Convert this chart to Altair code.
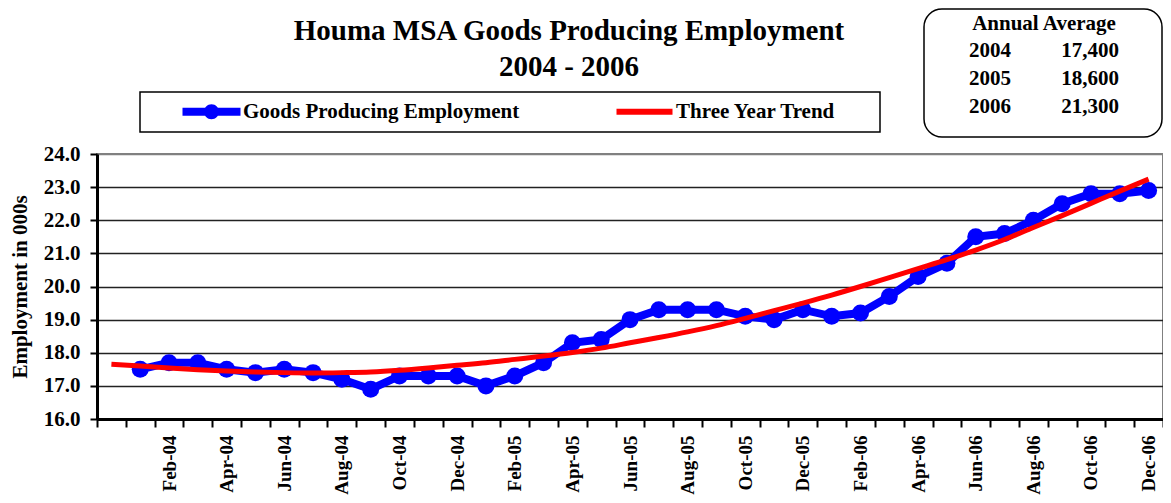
import json
import altair as alt
import pandas as pd

months = ["Dec-03",
          "Jan-04", "Feb-04", "Mar-04", "Apr-04", "May-04", "Jun-04",
          "Jul-04", "Aug-04", "Sep-04", "Oct-04", "Nov-04", "Dec-04",
          "Jan-05", "Feb-05", "Mar-05", "Apr-05", "May-05", "Jun-05",
          "Jul-05", "Aug-05", "Sep-05", "Oct-05", "Nov-05", "Dec-05",
          "Jan-06", "Feb-06", "Mar-06", "Apr-06", "May-06", "Jun-06",
          "Jul-06", "Aug-06", "Sep-06", "Oct-06", "Nov-06", "Dec-06"]
goods = [None,
         17.5, 17.7, 17.7, 17.5, 17.4, 17.5, 17.4, 17.2, 16.9, 17.3, 17.3, 17.3,
         17.0, 17.3, 17.7, 18.3, 18.4, 19.0, 19.3, 19.3, 19.3, 19.1, 19.0, 19.3,
         19.1, 19.2, 19.7, 20.3, 20.7, 21.5, 21.6, 22.0, 22.5, 22.8, 22.8, 22.9]
trend = [17.65,
         17.60, 17.54, 17.49, 17.45, 17.42, 17.40, 17.39, 17.40, 17.42, 17.47, 17.54, 17.62,
         17.70, 17.80, 17.90, 18.01, 18.14, 18.30, 18.46, 18.63, 18.82, 19.04, 19.27, 19.50,
         19.74, 20.00, 20.27, 20.54, 20.81, 21.10, 21.42, 21.78, 22.14, 22.51, 22.88, 23.24]
x_labels = ["Feb-04", "Apr-04", "Jun-04", "Aug-04", "Oct-04", "Dec-04",
            "Feb-05", "Apr-05", "Jun-05", "Aug-05", "Oct-05", "Dec-05",
            "Feb-06", "Apr-06", "Jun-06", "Aug-06", "Oct-06", "Dec-06"]
y_ticks = [16, 17, 18, 19, 20, 21, 22, 23, 24]
series = ["Goods Producing Employment", "Three Year Trend"]
title_lines = ["Houma MSA Goods Producing Employment", "2004 - 2006"]
y_title = "Employment in 000s"
annual_header = ["Annual Average"]
annual_years = ["2004", "2005", "2006"]
annual_values = [17400, 18600, 21300]

FONT = "Liberation Serif"
BLUE = "#0000FF"
RED = "#FF0000"

df = pd.DataFrame({"Month": months, "Goods": goods, "Trend": trend})
legend_df = pd.DataFrame({"Series": series})
annual_df = pd.DataFrame({"Year": annual_years, "Average": annual_values})
one = pd.DataFrame({"Label": annual_header})

label_expr = "indexof(%s, datum.value) >= 0 ? datum.value : ''" % json.dumps(x_labels)

x_enc = alt.X(
    "Month:N", sort=months,
    scale=alt.Scale(type="band", domain=months, paddingInner=0, paddingOuter=0),
    axis=alt.Axis(title=None, labelAngle=270, labelExpr=label_expr, labelOverlap=False,
                  tickBand="extent", tickSize=8, tickWidth=2, tickColor="black",
                  domainColor="black", domainWidth=3, grid=False,
                  labelFont=FONT, labelFontSize=19, labelFontWeight="bold",
                  labelColor="black", labelPadding=8),
)

y_axis = alt.Axis(title=y_title, values=y_ticks, format=".1f",
                  titleFont=FONT, titleFontSize=21, titleFontWeight="bold",
                  titleColor="black", titlePadding=13,
                  labelFont=FONT, labelFontSize=21, labelFontWeight="bold",
                  labelColor="black", labelPadding=10,
                  tickSize=7, tickWidth=2, tickColor="black",
                  domainColor="black", domainWidth=3,
                  grid=True,
                  gridColor={"condition": {"test": "datum.value === 24", "value": "#808080"},
                             "value": "#222222"},
                  gridWidth=1.3)
y_scale = alt.Scale(domain=[16, 24], nice=False, zero=False)

base = alt.Chart(df)

blue_line = base.mark_line(color=BLUE, strokeWidth=8).encode(
    x=x_enc, y=alt.Y("Goods:Q", scale=y_scale, axis=y_axis))
blue_pts = base.mark_point(filled=True, color=BLUE, size=289, opacity=1).encode(
    x=x_enc, y=alt.Y("Goods:Q", scale=y_scale, axis=y_axis))
red_line = base.mark_line(color=RED, strokeWidth=5, interpolate="monotone").encode(
    x=x_enc, y=alt.Y("Trend:Q", scale=y_scale, axis=y_axis))

path_blue = ("M-2.9,-0.4L2.9,-0.4L2.9,0.4L-2.9,0.4Z "
             "M0.75,0A0.75,0.75,0,1,1,-0.75,0A0.75,0.75,0,1,1,0.75,0Z")
path_red = "M-2.8,-0.3L2.8,-0.3L2.8,0.3L-2.8,0.3Z"

leg = alt.Legend(title=None, orient="none", legendX=85, legendY=-53,
                 direction="horizontal", symbolSize=400, symbolOffset=19,
                 labelOffset=21, columnPadding=95, padding=0,
                 labelFont=FONT, labelFontSize=21, labelFontWeight="bold",
                 labelColor="black", labelLimit=500, symbolOpacity=1,
                 symbolStrokeWidth=0)

legend_layer = alt.Chart(legend_df).mark_point(filled=True, size=0).encode(
    color=alt.Color("Series:N", scale=alt.Scale(domain=series, range=[BLUE, RED]), legend=leg),
    shape=alt.Shape("Series:N", scale=alt.Scale(domain=series, range=[path_blue, path_red]), legend=leg),
)

legend_box = alt.Chart(one).mark_rect(fill="white", stroke="black", strokeWidth=1.5).encode(
    x=alt.value(43), x2=alt.value(783), y=alt.value(-62), y2=alt.value(-22))

main = alt.layer(legend_box, blue_line, blue_pts, red_line, legend_layer)

annual_box = alt.Chart(one).mark_rect(fill="white", stroke="black", strokeWidth=1.5,
                                       cornerRadius=18).encode(
    x=alt.value(827), x2=alt.value(1065), y=alt.value(-145), y2=alt.value(-17))
header = alt.Chart(one).mark_text(font=FONT, fontSize=21, fontWeight="bold", color="black",
                                   align="center", baseline="middle").encode(
    x=alt.value(947), y=alt.value(-130), text="Label:N")
row_y = alt.Y("Year:O", scale=alt.Scale(type="point", domain=annual_years,
                                        range=[-103, -47], padding=0), axis=None)
years_txt = alt.Chart(annual_df).mark_text(font=FONT, fontSize=21, fontWeight="bold",
                                            color="black", align="left",
                                            baseline="middle").encode(
    x=alt.value(872), y=row_y, text="Year:N")
vals_txt = alt.Chart(annual_df).mark_text(font=FONT, fontSize=21, fontWeight="bold",
                                           color="black", align="right",
                                           baseline="middle").encode(
    x=alt.value(1022), y=row_y, text=alt.Text("Average:Q", format=","))
annual = alt.layer(annual_box, header, years_txt, vals_txt)

chart = alt.layer(main, annual).resolve_scale(y="independent").properties(
    width=1066, height=265,
    autosize=alt.AutoSizeParams(type="none"),
    padding={"left": 89, "top": 146, "right": 0, "bottom": 76},
    title=alt.Title(title_lines, font=FONT, fontSize=29, fontWeight="bold", color="black",
                    anchor="middle", frame="group", baseline="bottom", offset=0,
                    dx=-61, dy=103, lineHeight=36),
).configure(font=FONT).configure_view(fill="#C0C0C0", stroke="#808080", strokeWidth=2)

chart.save("out.html", embed_options={"renderer": "svg", "actions": False})
